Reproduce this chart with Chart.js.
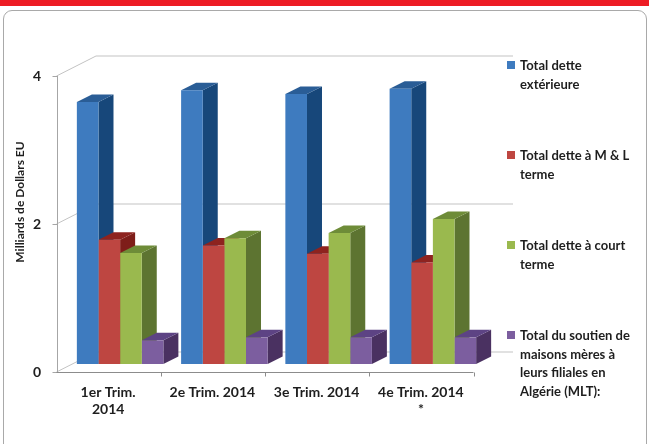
<!DOCTYPE html>
<html><head><meta charset="utf-8">
<script src="https://cdn.jsdelivr.net/npm/chart.js@4.4.0/dist/chart.umd.min.js"></script>
<style>
html,body{margin:0;padding:0;background:#fff;}
#wrap{position:relative;width:649px;height:444px;overflow:hidden;font-family:Lato,sans-serif;}
#redbar{position:absolute;left:0;top:0;width:649px;height:6px;background:#ED1C24;}
#frame{position:absolute;left:3px;top:10px;width:642px;height:470px;border:1px solid #A9A9A9;border-radius:9px;}
#c{position:absolute;left:0;top:0;}
#legend{position:absolute;left:507px;top:0;width:142px;height:444px;}
.li{position:absolute;left:0;width:142px;}
.sw{position:absolute;left:0;top:5px;width:8px;height:8px;}
.tx{position:absolute;left:13px;top:0;width:130px;font-weight:bold;font-size:13px;line-height:18.5px;color:#1E1E1E;white-space:nowrap;}
</style></head>
<body>
<div id="wrap">
  <div id="redbar"></div>
  <div id="frame"></div>
  <canvas id="c" width="649" height="444"></canvas>
  <div id="legend"></div>
</div>
<script>
// ---- data ----
const categories = [['1er Trim.', '2014'], '2e Trim. 2014', '3e Trim. 2014', ['4e Trim. 2014', '*']];
const seriesNames = [
  ['Total dette', 'extérieure'],
  ['Total dette à M & L', 'terme'],
  ['Total dette à court', 'terme'],
  ['Total du soutien de', 'maisons mères à', 'leurs filiales en', 'Algérie (MLT):']
];
const detteExterieure = [3.54, 3.70, 3.65, 3.72];
const detteMoyenLong = [1.68, 1.60, 1.49, 1.37];
const detteCourt = [1.50, 1.70, 1.77, 1.96];
const soutienMLT = [0.32, 0.36, 0.36, 0.36];
const yTicks = [0, 2, 4];
const yTitle = 'Milliards de Dollars EU';

// ---- styles ----
const frontColors = ['#3E7BBF', '#BE4641', '#9AB94E', '#7C5E9F'];
const sideColors = ['#17477A', '#7E1D19', '#5D7431', '#4A3161'];
const topColors = ['#2A5D96', '#8E231F', '#6E8C38', '#5D4384'];
const seriesValues = [detteExterieure, detteMoyenLong, detteCourt, soutienMLT];

const DEPTH = {dx: 15, dy: -7.5};
const FRONT = {dx: -11.5, dy: 8};
const BACK = {dx: 28, dy: -12};

const threeD = {
  id: 'threeD',
  beforeDatasetsDraw(chart) {
    const ctx = chart.ctx;
    const ys = chart.scales.y, ca = chart.chartArea;
    ctx.save();
    ctx.lineWidth = 1;
    ctx.strokeStyle = '#C3C3C3';
    yTicks.forEach(v => {
      const py = ys.getPixelForValue(v);
      ctx.beginPath();
      ctx.moveTo(ca.left + FRONT.dx, py + FRONT.dy);
      ctx.lineTo(ca.left + BACK.dx, py + BACK.dy);
      ctx.lineTo(ca.right + BACK.dx, py + BACK.dy);
      ctx.stroke();
    });
    ctx.strokeStyle = '#A6A6A6';
    const fx = Math.round(ca.left + FRONT.dx) + 0.5;
    ctx.beginPath();
    ctx.moveTo(fx, ys.getPixelForValue(4) + FRONT.dy);
    ctx.lineTo(fx, ys.getPixelForValue(0) + FRONT.dy);
    yTicks.forEach(v => {
      const py = Math.round(ys.getPixelForValue(v) + FRONT.dy) + 0.5;
      ctx.moveTo(fx - 5, py); ctx.lineTo(fx, py);
    });
    ctx.stroke();
    ctx.strokeStyle = '#8C8C8C';
    const by = Math.round(ys.getPixelForValue(0) + FRONT.dy) + 0.5;
    ctx.beginPath();
    ctx.moveTo(ca.left + FRONT.dx, by);
    ctx.lineTo(ca.right + FRONT.dx, by);
    const n = categories.length;
    for (let k = 1; k <= n; k++) {
      const tx = Math.round(ca.left + (ca.right - ca.left) * k / n + FRONT.dx) + 0.5;
      ctx.moveTo(tx, by); ctx.lineTo(tx, by + 4);
    }
    ctx.stroke();
    for (let i = 0; i < n; i++) {
      for (let d = 0; d < chart.data.datasets.length; d++) {
        const el = chart.getDatasetMeta(d).data[i];
        const l = el.x - el.width / 2, r = el.x + el.width / 2;
        const t = el.y, b = el.base;
        ctx.fillStyle = sideColors[d];
        ctx.beginPath();
        ctx.moveTo(r, t); ctx.lineTo(r + DEPTH.dx, t + DEPTH.dy);
        ctx.lineTo(r + DEPTH.dx, b + DEPTH.dy); ctx.lineTo(r, b);
        ctx.closePath(); ctx.fill();
        ctx.fillStyle = topColors[d];
        ctx.beginPath();
        ctx.moveTo(l, t); ctx.lineTo(r, t);
        ctx.lineTo(r + DEPTH.dx, t + DEPTH.dy); ctx.lineTo(l + DEPTH.dx, t + DEPTH.dy);
        ctx.closePath(); ctx.fill();
      }
    }
    ctx.restore();
  },
  afterDraw(chart) {
    const ctx = chart.ctx;
    ctx.save();
    ctx.translate(20, 202);
    ctx.rotate(-Math.PI / 2);
    ctx.font = 'bold 12px Lato';
    ctx.fillStyle = '#1E1E1E';
    ctx.textAlign = 'center';
    ctx.textBaseline = 'middle';
    ctx.fillText(yTitle, 0, 0);
    ctx.restore();
  }
};

const chart = new Chart(document.getElementById('c'), {
  type: 'bar',
  data: {
    labels: categories,
    datasets: seriesValues.map((vals, d) => ({
      label: seriesNames[d].join(' '),
      data: vals,
      backgroundColor: frontColors[d],
      borderWidth: 0,
      categoryPercentage: 0.83,
      barPercentage: 1.0
    }))
  },
  options: {
    responsive: false,
    animation: false,
    layout: {padding: {left: 9, right: 164, top: 68, bottom: 20}},
    plugins: {legend: {display: false}, tooltip: {enabled: false}},
    scales: {
      x: {
        grid: {display: false, drawTicks: false},
        border: {display: false},
        ticks: {padding: 19.5, labelOffset: -12, maxRotation: 0, autoSkip: false, color: '#1E1E1E',
                font: {family: 'Lato', weight: 'bold', size: 14, lineHeight: 1.22}},
        afterFit: s => { s.height = 60; }
      },
      y: {
        min: 0, max: 4,
        grid: {display: false, drawTicks: false},
        border: {display: false},
        ticks: {stepSize: 2, padding: 27, labelOffset: 8, color: '#1E1E1E',
                font: {family: 'Lato', weight: 'bold', size: 14}},
        afterFit: s => { s.width = 59; }
      }
    }
  },
  plugins: [threeD]
});

const lg = document.getElementById('legend');
const legendTops = [56, 146, 236, 326];
seriesNames.forEach((lines, d) => {
  const item = document.createElement('div');
  item.className = 'li';
  item.style.top = legendTops[d] + 'px';
  const sw = document.createElement('div');
  sw.className = 'sw';
  sw.style.background = frontColors[d];
  const tx = document.createElement('div');
  tx.className = 'tx';
  tx.innerHTML = lines.join('<br>');
  item.appendChild(sw); item.appendChild(tx);
  lg.appendChild(item);
});
</script>
</body></html>
